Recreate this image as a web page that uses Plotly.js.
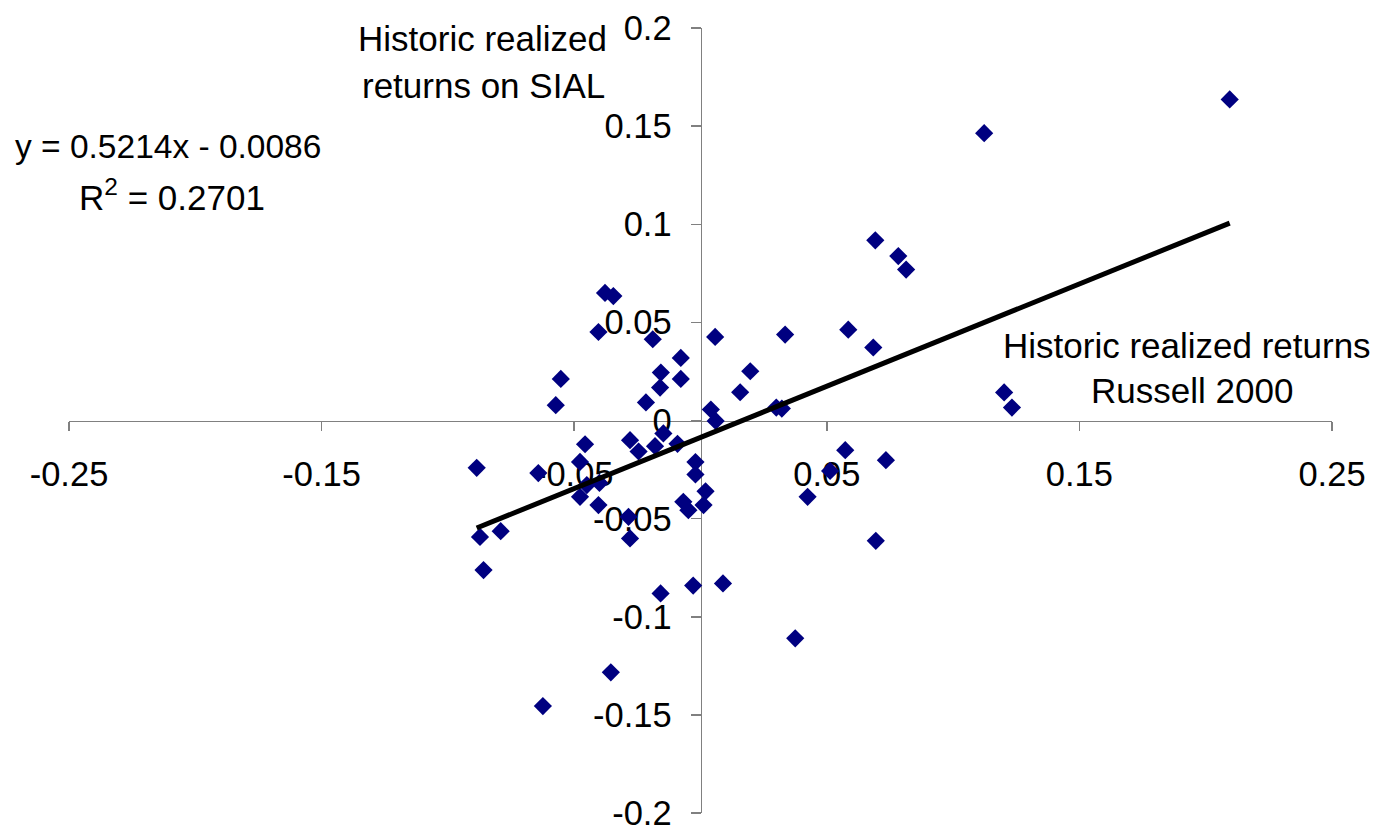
<!DOCTYPE html>
<html>
<head>
<meta charset="utf-8">
<script src="https://cdn.plot.ly/plotly-3.0.1.min.js"></script>
<style>
  html, body { margin: 0; padding: 0; background: #ffffff; }
  #chart { width: 1380px; height: 829px; }
</style>
</head>
<body>
<div id="chart"></div>
<script>
// Russell 2000 realized returns (x) vs SIAL realized returns (y)
const russellReturns = [
  -0.0886, -0.0873, -0.0859, -0.0791, -0.0642, -0.0624, -0.0573, -0.0553,
  -0.0477, -0.0477, -0.0457, -0.0450, -0.0404, -0.0404, -0.0400, -0.0378,
  -0.0345, -0.0355, -0.0285, -0.0279, -0.0279, -0.0245, -0.0216, -0.0189,
  -0.0180, -0.0157, -0.0160, -0.0158, -0.0147, -0.0091, -0.0078, -0.0078,
  -0.0068, -0.0048, -0.0029, -0.0020, -0.0020, 0.0012, 0.0020, 0.0041,
  0.0060, 0.0058, 0.0089, 0.0157, 0.0197, 0.0300, 0.0322, 0.0335,
  0.0375, 0.0424, 0.0513, 0.0573, 0.0585, 0.0684, 0.0692, 0.0694,
  0.0734, 0.0783, 0.0814, 0.1123, 0.1202, 0.1233, 0.2095
];
const sialReturns = [
  -0.0241, -0.0593, -0.0762, -0.0564, -0.0268, -0.1455, 0.0078, 0.0212,
  -0.0211, -0.0389, -0.0121, -0.0329, 0.0451, -0.0431, -0.0318, 0.0650,
  0.0634, -0.1283, -0.0491, -0.0601, -0.0100, -0.0158, 0.0092, 0.0414,
  -0.0131, 0.0244, 0.0168, -0.0881, -0.0066, -0.0119, 0.0319, 0.0212,
  -0.0414, -0.0457, -0.0841, -0.0212, -0.0275, -0.0431, -0.0361, 0.0056,
  -0.0002, 0.0426, -0.0830, 0.0144, 0.0251, 0.0066, 0.0061, 0.0438,
  -0.1110, -0.0389, -0.0257, -0.0151, 0.0463, 0.0372, 0.0918, -0.0613,
  -0.0202, 0.0838, 0.0769, 0.1464, 0.0143, 0.0066, 0.1636
];

// Linear trend line end points (as drawn in the chart)
const trendX = [-0.0886, 0.2095];
const trendY = [-0.0548, 0.1006];

// Axis ticks
const xTickVals = [-0.25, -0.15, -0.05, 0.05, 0.15, 0.25];
const xTickText = ['-0.25', '-0.15', '-0.05', '0.05', '0.15', '0.25'];
const yTickVals = [-0.2, -0.15, -0.1, -0.05, 0, 0.05, 0.1, 0.15, 0.2];
const yTickText = ['-0.2', '-0.15', '-0.1', '-0.05', '0', '0.05', '0.1', '0.15', '0.2'];

// Texts
const yAxisLabel = ['Historic realized', 'returns on SIAL'];
const xAxisLabel = ['Historic realized returns', 'Russell 2000'];
const equationText = 'y = 0.5214x - 0.0086';
const r2Text = 'R<sup>2</sup> = 0.2701';

const W = 1380, H = 829;
const L = 69, R = 1331.7, T = 27.5, B = 813.1;
const px = v => (v - L) / (R - L);
const py = v => (B - v) / (B - T);

const FONT = 'Arial, "Liberation Sans", sans-serif';
const axisColor = '#808080';

const traces = [
  {
    x: russellReturns,
    y: sialReturns,
    type: 'scatter',
    mode: 'markers',
    marker: { symbol: 'diamond', size: 14, color: '#000080', line: { width: 0 } },
    hoverinfo: 'x+y',
    cliponaxis: false
  },
  {
    x: trendX,
    y: trendY,
    type: 'scatter',
    mode: 'lines',
    line: { color: '#000000', width: 5 },
    hoverinfo: 'skip'
  }
];

function ann(text, x, y, xanchor, size) {
  return {
    text: text, xref: 'paper', yref: 'paper', x: px(x), y: py(y),
    xanchor: xanchor || 'center', yanchor: 'middle', showarrow: false,
    font: { family: FONT, size: size || 35, color: '#000000' }
  };
}

const tickFont = { family: FONT, size: 34.5, color: '#000000' };

const layout = {
  width: W, height: H,
  margin: { l: L, r: W - R, t: T, b: H - B, pad: 0 },
  paper_bgcolor: '#ffffff',
  plot_bgcolor: '#ffffff',
  showlegend: false,
  font: { family: FONT, size: 34, color: '#000000' },
  xaxis: {
    range: [-0.25, 0.25],
    domain: [0, 1],
    anchor: 'free',
    position: 0.5,
    side: 'bottom',
    showgrid: false,
    zeroline: false,
    showline: true,
    linecolor: axisColor,
    linewidth: 1.5,
    ticks: 'outside',
    ticklen: 9,
    tickwidth: 1.5,
    tickcolor: axisColor,
    tickmode: 'array',
    tickvals: xTickVals,
    ticktext: xTickText,
    tickfont: tickFont,
    ticklabelstandoff: 14,
    ticklabeloverflow: 'allow',
    layer: 'below traces',
    automargin: false,
    fixedrange: true
  },
  yaxis: {
    range: [-0.2, 0.2],
    domain: [0, 1],
    anchor: 'free',
    position: 0.5,
    side: 'left',
    showgrid: false,
    zeroline: false,
    showline: true,
    linecolor: axisColor,
    linewidth: 1.5,
    ticks: 'outside',
    ticklen: 10,
    tickwidth: 1.5,
    tickcolor: axisColor,
    tickmode: 'array',
    tickvals: yTickVals,
    ticktext: yTickText,
    tickfont: tickFont,
    ticklabelstandoff: 12,
    ticklabeloverflow: 'allow',
    layer: 'below traces',
    automargin: false,
    fixedrange: true
  },
  annotations: [
    ann(yAxisLabel[0], 482, 38),
    ann(yAxisLabel[1], 483, 85),
    ann(equationText, 13, 146, 'left', 33.5),
    ann(r2Text, 77, 195, 'left', 35),
    ann(xAxisLabel[0], 1187, 345),
    ann(xAxisLabel[1], 1192, 390)
  ]
};

Plotly.newPlot('chart', traces, layout, { displayModeBar: false, staticPlot: true });
</script>
</body>
</html>
